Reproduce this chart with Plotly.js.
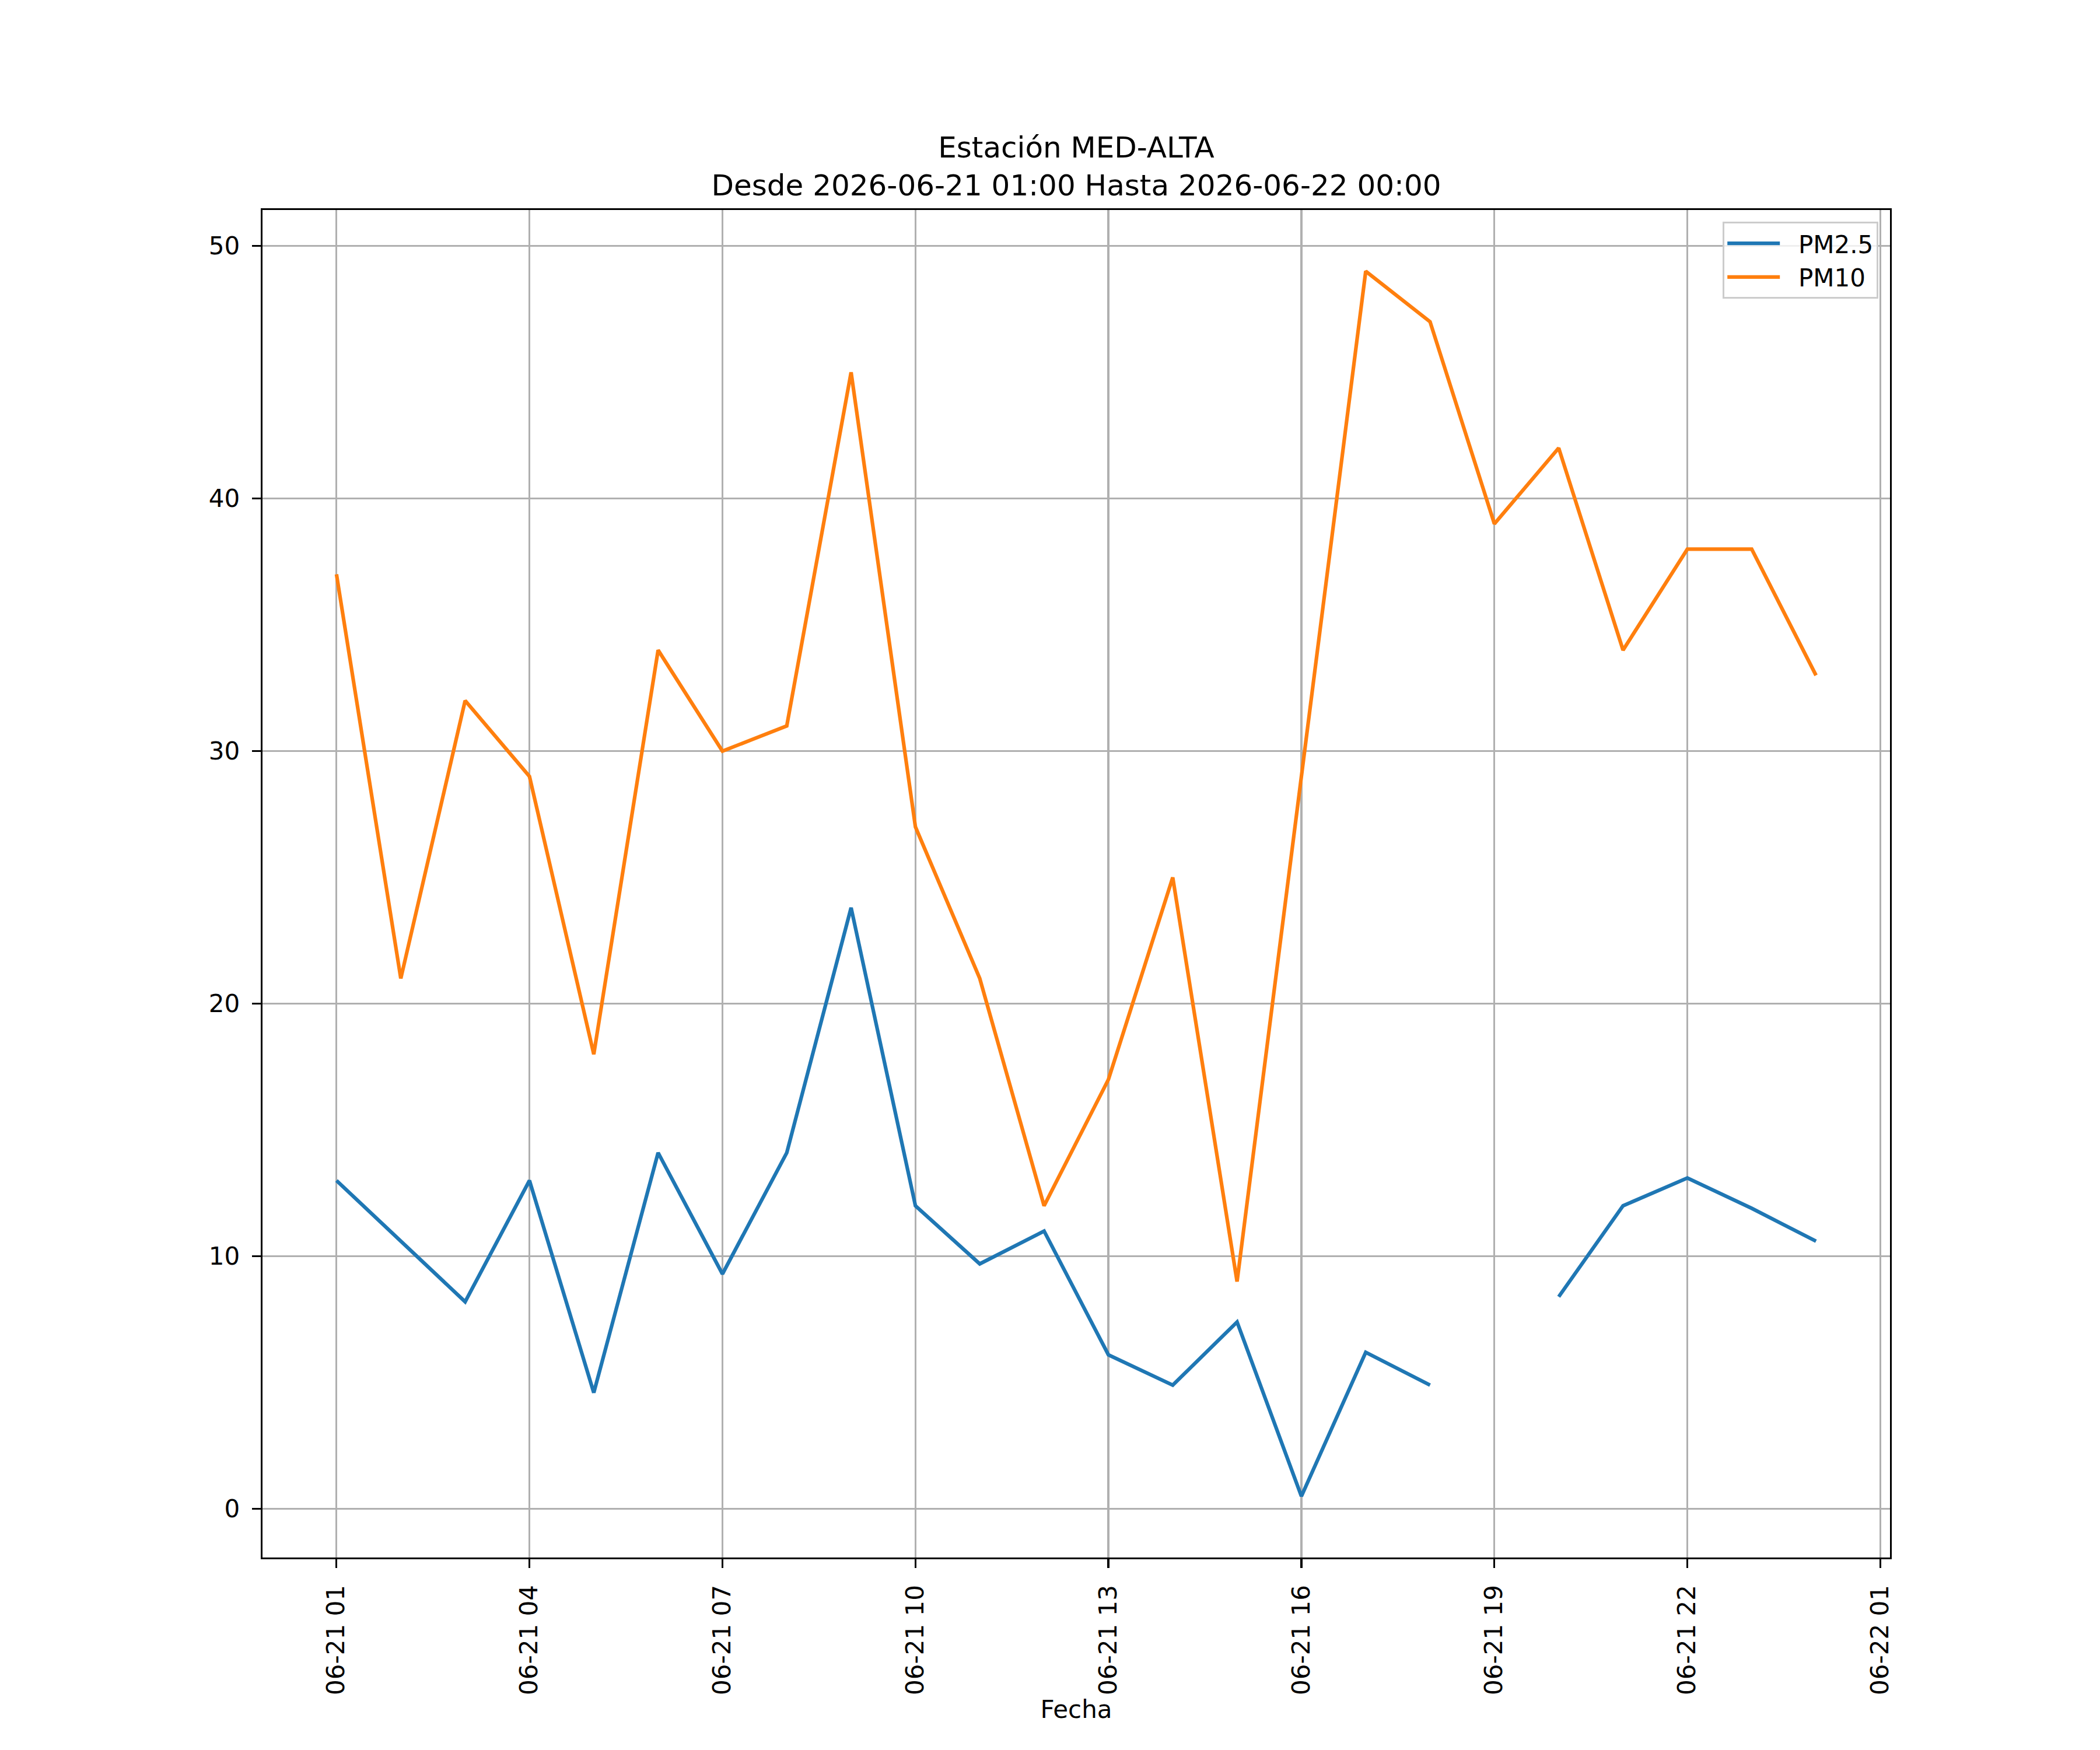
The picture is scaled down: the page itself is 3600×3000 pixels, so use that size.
<!DOCTYPE html>
<html>
<head>
<meta charset="utf-8">
<script src="https://cdn.plot.ly/plotly-3.0.1.min.js"></script>
<style>
  body { margin: 0; background: #fff; }
  #chart { width: 3600px; height: 3000px; }
</style>
</head>
<body>
<div id="chart"></div>
<script>
// hourly readings, station MED-ALTA
const horas = [
    '2026-06-21 01:00', '2026-06-21 02:00', '2026-06-21 03:00', '2026-06-21 04:00',
    '2026-06-21 05:00', '2026-06-21 06:00', '2026-06-21 07:00', '2026-06-21 08:00',
    '2026-06-21 09:00', '2026-06-21 10:00', '2026-06-21 11:00', '2026-06-21 12:00',
    '2026-06-21 13:00', '2026-06-21 14:00', '2026-06-21 15:00', '2026-06-21 16:00',
    '2026-06-21 17:00', '2026-06-21 18:00', '2026-06-21 19:00', '2026-06-21 20:00',
    '2026-06-21 21:00', '2026-06-21 22:00', '2026-06-21 23:00', '2026-06-22 00:00'
];

const pm25 = [13.0, 10.6, 8.2, 13.0, 4.6, 14.1, 9.3, 14.1,
              23.8, 12.0, 9.7, 11.0, 6.1, 4.9, 7.4, 0.5,
              6.2, 4.9, null, 8.4, 12.0, 13.1, 11.9, 10.6];

const pm10 = [37, 21, 32, 29, 18, 34, 30, 31,
              45, 27, 21, 12, 17, 25, 9, 29,
              49, 47, 39, 42, 34, 38, 38, 33];

const titulo = 'Estación MED-ALTA<br>Desde 2026-06-21 01:00 Hasta 2026-06-22 00:00';

const fuente = 'DejaVu Sans, sans-serif';

// a little gap between the legend line and its label
const hueco = '\u00a0\u00a0';

var trace1 = {
    x: horas,
    y: pm25,
    type: 'scatter',
    mode: 'lines',
    name: hueco + 'PM2.5',
    connectgaps: false,
    line: { color: '#1f77b4', width: 6.25 }
};

var trace2 = {
    x: horas,
    y: pm10,
    type: 'scatter',
    mode: 'lines',
    name: hueco + 'PM10',
    line: { color: '#ff7f0e', width: 6.25 }
};

var ejeComun = {
    showline: true,
    linecolor: '#000',
    linewidth: 3.3,
    mirror: true,
    ticks: 'outside',
    ticklen: 15,
    tickwidth: 3.3,
    tickcolor: '#000',
    showgrid: true,
    gridcolor: '#b0b0b0',
    gridwidth: 3.3,
    zeroline: false,
    tickfont: { family: fuente, size: 42, color: '#000' }
};

var layout = {
    width: 3600,
    height: 3000,
    paper_bgcolor: '#fff',
    plot_bgcolor: '#fff',
    margin: { l: 450, r: 360, t: 360, b: 330 },
    font: { family: fuente, color: '#000' },
    title: {
        text: titulo,
        font: { family: fuente, size: 50, color: '#000' },
        xref: 'paper',
        x: 0.5,
        xanchor: 'center',
        yref: 'container',
        y: 1 - 270 / 3000,
        yanchor: 'bottom'
    },
    xaxis: Object.assign({}, ejeComun, {
        type: 'date',
        range: ['2026-06-20 23:51:00', '2026-06-22 01:09:00'],
        tick0: '2026-06-21 01:00',
        dtick: 3 * 3600 * 1000,
        tickformat: '%m-%d %H',
        tickangle: -90,
        ticklabelstandoff: 12,
        automargin: false,
        title: { text: 'Fecha', font: { family: fuente, size: 42, color: '#000' }, standoff: 4 }
    }),
    yaxis: Object.assign({}, ejeComun, {
        range: [-1.925, 51.425],
        tick0: 0,
        dtick: 10,
        ticklabelstandoff: 12,
        automargin: false
    }),
    showlegend: true,
    legend: {
        x: 0.9928,
        xanchor: 'right',
        y: 0.9913,
        yanchor: 'top',
        bgcolor: 'rgba(255,255,255,0.8)',
        bordercolor: '#cccccc',
        borderwidth: 3.3,
        font: { family: fuente, size: 42, color: '#000' },
        itemwidth: 90
    }
};

Plotly.newPlot('chart', [trace1, trace2], layout, { displayModeBar: false, staticPlot: true });
</script>
</body>
</html>
